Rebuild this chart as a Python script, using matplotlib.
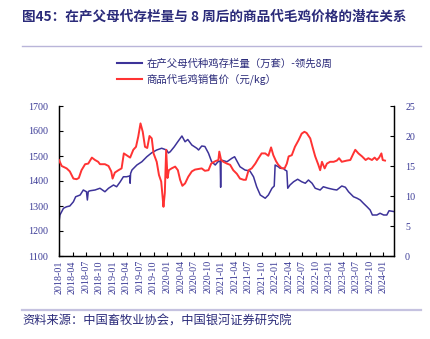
import matplotlib
matplotlib.use("Agg")
import matplotlib.pyplot as plt
from matplotlib.lines import Line2D

# ---- data (x = months since 2018-01) ----
blue_month = [0, 0.2, 1.0, 1.7, 2.4, 3.2, 3.7, 4.7, 5.4, 6.1, 6.3, 6.5, 6.9, 8.0, 9.1, 10.2, 11.0, 12.1, 12.8,
              13.6, 14.3, 15.0, 15.7, 15.8, 15.9, 16.2, 17.3, 18.4, 19.5, 20.6, 21.7, 22.8, 23.9, 24.3, 24.7,
              25.6, 26.3, 27.3, 28.0, 28.6, 29.5, 30.6, 31.0, 31.7, 32.4, 33.2, 33.9, 34.7, 35.3, 35.8, 35.9,
              36.0, 37.3, 38.4, 39.0, 40.2, 41.3, 42.4, 43.2, 43.9, 44.7, 45.8, 46.5, 47.3, 47.8, 48.0, 48.7,
              49.1, 49.8, 50.2, 50.6, 50.8, 51.3, 52.1, 53.0, 53.9, 54.7, 55.4, 56.2, 56.9, 58.0, 58.7, 59.8,
              61.0, 61.7, 62.8, 63.6, 64.3, 65.4, 66.2, 66.9, 67.6, 68.4, 69.1, 69.6, 70.6, 71.3, 72.1, 72.8,
              73.3, 74.3]
blue_value = [1237, 1264, 1291, 1297, 1300, 1317, 1337, 1344, 1364, 1357, 1324, 1358, 1361, 1364, 1371, 1357, 1371, 1384, 1377,
              1397, 1417, 1417, 1420, 1391, 1430, 1444, 1464, 1477, 1497, 1513, 1524, 1531, 1524, 1512, 1517,
              1537, 1555, 1580, 1557, 1566, 1544, 1531, 1524, 1540, 1538, 1511, 1477, 1464, 1477, 1480, 1375,
              1484, 1477, 1491, 1497, 1457, 1444, 1440, 1417, 1377, 1344, 1331, 1344, 1371, 1380, 1464, 1457,
              1451, 1451, 1444, 1440, 1371, 1384, 1397, 1407, 1397, 1391, 1404, 1391, 1371, 1364, 1377, 1371,
              1366, 1364, 1380, 1375, 1357, 1337, 1331, 1324, 1311, 1297, 1284, 1264, 1264, 1271, 1264, 1264,
              1281, 1278]

red_month = [0, 0.6, 1.7, 2.4, 3.2, 3.9, 4.4, 5.0, 5.8, 6.5, 7.3, 8.0, 8.7, 9.1, 10.2, 11.0, 11.6, 11.9, 12.4,
             13.2, 13.9, 14.4, 15.0, 15.8, 16.5, 17.1, 17.6, 18.1, 18.6, 19.1, 19.6, 20.1, 20.6, 21.0, 21.7,
             22.2, 22.7, 23.0, 23.2, 23.5, 23.8, 24.1, 24.4, 25.0, 25.8, 26.4, 26.9, 27.4, 28.0, 28.7, 29.5,
             30.2, 31.7, 32.4, 33.2, 33.8, 34.7, 35.4, 35.6, 36.0, 36.5, 37.3, 38.0, 38.7, 39.5, 40.2, 41.0,
             41.5, 42.1, 42.8, 43.6, 44.3, 45.0, 45.8, 46.5, 47.1, 47.6, 48.2, 48.7, 49.5, 50.1, 50.6, 51.0,
             51.7, 52.4, 53.2, 53.9, 54.5, 55.0, 55.8, 56.3, 56.9, 57.6, 58.0, 58.4, 59.0, 59.5, 60.2, 61.0,
             61.7, 62.2, 62.8, 63.9, 64.7, 65.4, 65.8, 66.5, 67.3, 68.1, 68.7, 69.5, 70.1, 70.6, 71.1, 71.6,
             71.9, 72.4]
red_value = [16.0, 15.0, 14.6, 14.1, 12.9, 12.8, 13.0, 14.3, 15.3, 15.4, 16.4, 16.0, 15.7, 15.3, 15.3, 15.0, 14.1, 12.9, 13.9,
             14.3, 14.6, 17.1, 16.8, 16.4, 17.7, 18.2, 19.9, 22.1, 20.7, 18.2, 18.0, 20.0, 19.6, 17.1, 15.7,
             13.5, 12.4, 9.9, 8.2, 10.5, 17.7, 13.0, 14.3, 14.6, 14.9, 14.3, 12.7, 11.7, 12.1, 13.2, 14.1,
             14.4, 14.6, 14.2, 14.3, 15.4, 15.8, 16.0, 17.4, 16.0, 15.7, 15.4, 15.2, 14.3, 13.7, 12.9, 12.7,
             12.7, 14.3, 14.6, 15.4, 16.3, 17.1, 17.1, 16.7, 18.1, 16.8, 15.8, 15.2, 14.6, 14.6, 15.4, 16.6,
             16.8, 18.2, 19.3, 20.4, 20.7, 20.5, 19.6, 18.2, 16.6, 15.2, 14.3, 15.7, 14.6, 15.4, 15.7, 15.7,
             15.9, 16.3, 15.7, 15.9, 16.0, 17.1, 17.7, 17.1, 16.6, 16.0, 16.3, 16.0, 16.4, 16.0, 16.4, 17.1,
             16.0, 15.9]

tick_labels = [f"{y}-{m:02d}" for y in range(2018, 2025) for m in (1, 4, 7, 10)][:25]
tick_pos = [3 * i for i in range(len(tick_labels))]

title = "图45：在产父母代存栏量与 8 周后的商品代毛鸡价格的潜在关系"
label_blue = "在产父母代种鸡存栏量（万套）-领先8周"
label_red = "商品代毛鸡销售价（元/kg）"
source = "资料来源：中国畜牧业协会，中国银河证券研究院"

# ---- style ----
NAVY = "#2B2B7A"
TICKC = "#3A3A96"
BLUE = "#3D3399"
RED = "#FF3333"
CJK = ["Noto Sans CJK SC", "DejaVu Sans"]
SERIF = ["Liberation Serif", "DejaVu Serif"]

W, H = 430, 339
fig = plt.figure(figsize=(W / 100, H / 100), dpi=100)

ax = fig.add_axes([59 / W, 1 - 256 / H, (394 - 59) / W, 150 / H])
ax2 = ax.twinx()

ax.plot(blue_month, blue_value, color=BLUE, lw=1.1, zorder=2)
ax2.plot(red_month, red_value, color=RED, lw=1.4, zorder=3)

ax.set_xlim(0, 74.4)
ax.set_ylim(1100, 1700)
ax2.set_ylim(0, 25)
ax.set_yticks(range(1100, 1701, 100))
ax2.set_yticks(range(0, 26, 5))
ax.set_xticks(tick_pos)
ax.set_xticklabels(tick_labels, rotation=90)

for a in (ax, ax2):
    a.spines["top"].set_visible(False)
    for s in ("left", "right", "bottom"):
        a.spines[s].set_color("black")
        a.spines[s].set_linewidth(0.9)
    a.tick_params(direction="in", length=3, width=0.8, colors="black", labelcolor=TICKC)
    for lab in a.get_xticklabels() + a.get_yticklabels():
        lab.set_family(SERIF)
        lab.set_fontsize(7.2)
ax.tick_params(axis="y", pad=8)
ax2.tick_params(axis="y", pad=8)
ax.tick_params(axis="x", pad=3)
ax.patch.set_visible(False)

# title
fig.text(22 / W, 1 - 17 / H, title, fontsize=9.8, fontweight="bold", color=NAVY,
         family=CJK, va="center", ha="left")
# separators
fig.add_artist(Line2D([22 / W, 421 / W], [1 - 46 / H, 1 - 46 / H], color="#B9B5D9", lw=1.0))
fig.add_artist(Line2D([22 / W, 421 / W], [1 - 310 / H, 1 - 310 / H], color="#C5C2E0", lw=1.6))

# legend
h1 = Line2D([], [], color=BLUE, lw=1.5)
h2 = Line2D([], [], color=RED, lw=1.5)
leg = fig.legend([h1, h2], [label_blue, label_red], loc="upper left",
                 bbox_to_anchor=(112 / W, 1 - 53 / H), frameon=False,
                 prop={"family": CJK, "size": 7.5}, labelcolor=NAVY,
                 handlelength=2.4, handletextpad=0.4, labelspacing=0.5, borderpad=0)

# source
fig.text(22 / W, 1 - 321 / H, source, fontsize=8.8, style="italic", color=NAVY,
         family=CJK, va="center", ha="left")

fig.savefig("out.png", dpi=100)
